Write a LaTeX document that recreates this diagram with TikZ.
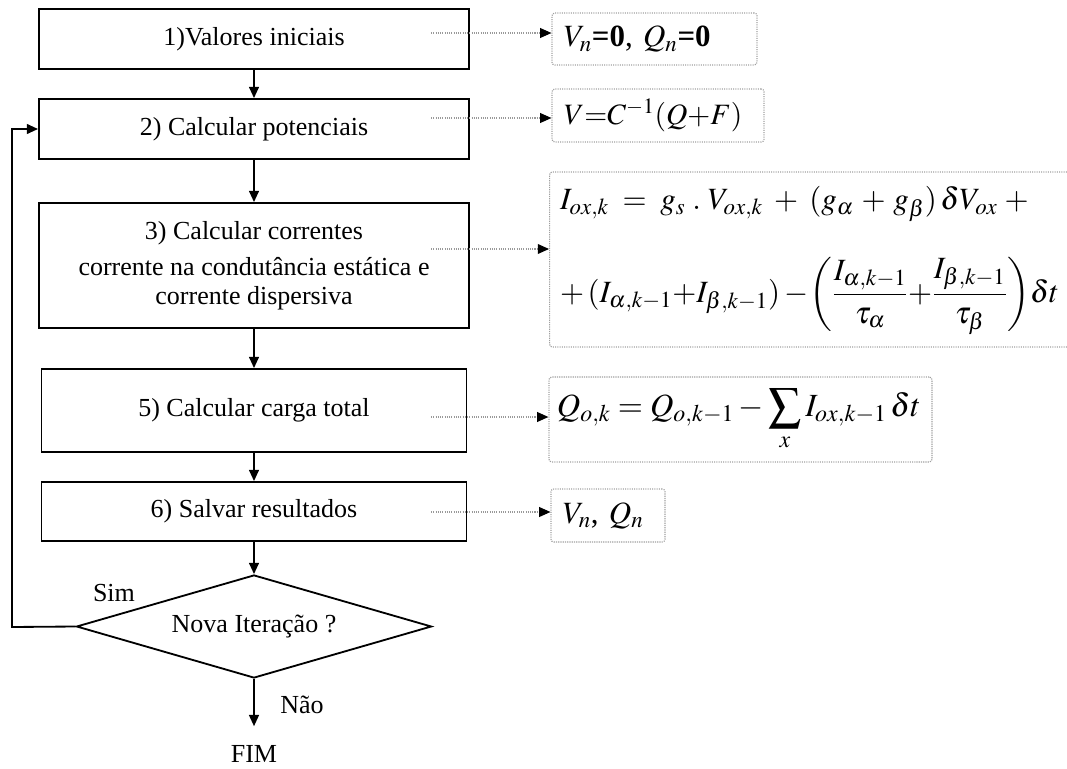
\documentclass[tikz,border=0pt]{standalone}
\usepackage{amsmath}
\usepackage{mathptmx}
\usepackage[no-math]{fontspec}
\setmainfont{Liberation Serif}
\usetikzlibrary{shapes.geometric,arrows.meta}

\begin{document}
\begin{tikzpicture}[x=0.025cm, y=-0.025cm]
  \tikzset{
    blk/.style={rectangle, draw=black, line width=1.3pt, minimum width=10.75cm, inner sep=0pt, align=center, font=\fontsize{18.5}{20}\selectfont},
    cond/.style={diamond, draw=black, line width=1.3pt, inner sep=0pt, shape aspect=3.45, font=\fontsize{18.5}{20}\selectfont},
    eqn/.style={rectangle, draw=gray!75, rounded corners=2pt, line width=0.8pt, dash pattern=on 0.8pt off 0.8pt, inner xsep=0.3cm, align=left, font=\fontsize{22}{26}\selectfont},
    flow/.style={draw=black, line width=1.3pt, -{Triangle[length=8pt,width=7pt]}},
    dots/.style={draw=gray!80, line width=0.8pt, dash pattern=on 0.8pt off 0.8pt, -{Triangle[length=8pt,width=7pt,color=black]}},
    lbl/.style={inner sep=0pt, font=\fontsize{18.5}{20}\selectfont}
  }

  % page frame (pixel coordinates, y pointing down)
  \useasboundingbox (0,0) rectangle (1067,769);

  % steps of the loop
  \node[blk, minimum height=1.5cm] (b1) at (254,39) {1)Valores iniciais};
  \node[blk, minimum height=1.5cm] (b2) at (254,129) {2) Calcular potenciais};
  \node[blk, minimum height=3.125cm] (b3) at (254,265.5) {3) Calcular correntes\\[6pt]
    corrente na condutância estática e\\ corrente dispersiva};
  \node[blk, minimum width=10.625cm, minimum height=2.075cm] (b5) at (254,410.5) {5) Calcular carga total};
  \node[blk, minimum width=10.625cm, minimum height=1.475cm] (b6) at (254,511.5) {6) Salvar resultados};
  \node[cond, minimum width=8.875cm, minimum height=2.575cm] (nova) at (254,626.5) {Nova Iteração ?};

  % labels of the decision
  \node[lbl] (sim) at (114,593) {Sim};
  \node[lbl] (nao) at (302,705) {Não};
  \node[lbl, inner ysep=13.5pt] (fim) at (254,754) {FIM};

  % equations (dotted boxes)
  \node[eqn, text width=4.525cm, minimum height=1.3cm] (r1) at (654.5,39) {$V_n$\textbf{=0}, $Q_n$\textbf{=0}};
  \node[eqn, text width=4.7cm, minimum height=1.325cm, font=\fontsize{21}{26}\selectfont] (r2) at (658,115.5) {$V{=}C^{-1}(Q{+}F)$};
  \node[eqn, anchor=west, inner xsep=0.2cm, minimum width=13.0cm, minimum height=4.375cm, font=\fontsize{22}{26}\selectfont] (r3) at (549,259.5) {$\displaystyle
    \begin{array}{@{}l@{}}
      I_{ox,k} \;=\; g_s \;.\; V_{ox,k} \;+\; (g_{\alpha} \,+\, g_{\beta})\,\delta V_{ox} \;+ \\[26pt]
      +\, (I_{\alpha,k-1} {+} I_{\beta,k-1}) - \!\left(\dfrac{I_{\alpha,k-1}}{\tau_{\alpha}} {+} \dfrac{I_{\beta,k-1}}{\tau_{\beta}}\right)\!\delta t
    \end{array}$};
  \node[eqn, inner xsep=0.2cm, text width=9.175cm, minimum height=2.125cm, font=\fontsize{23}{26}\selectfont] (r5) at (740.5,419.5) {$\displaystyle Q_{o,k} = Q_{o,k-1} - \sum_{x} I_{ox,k-1}\,\delta t$};
  \node[eqn, text width=2.25cm, minimum height=1.325cm] (r6) at (608,515.5) {$V_n$, $Q_n$};

  % flow
  \draw[flow] (b1) -- (b2);
  \draw[flow] (b2) -- (b3);
  \draw[flow] (b3) -- (b5);
  \draw[flow] (b5) -- (b6);
  \draw[flow] (b6) -- (nova);
  \draw[flow] (nova) -- (fim);

  % back to step 2
  \coordinate (lp) at (12,627);
  \draw[flow] (nova.west) -- (lp) |- (b2.west);

  % dotted links to the equations
  \coordinate (s1) at (431,33);
  \coordinate (s2) at (431,118);
  \coordinate (s3) at (431,249);
  \coordinate (s5) at (431,417);
  \coordinate (s6) at (431,512);
  \draw[dots] (s1) -- (s1 -| r1.west);
  \draw[dots] (s2) -- (s2 -| r2.west);
  \draw[dots] (s3) -- (s3 -| r3.west);
  \draw[dots] (s5) -- (s5 -| r5.west);
  \draw[dots] (s6) -- (s6 -| r6.west);
\end{tikzpicture}
\end{document}
